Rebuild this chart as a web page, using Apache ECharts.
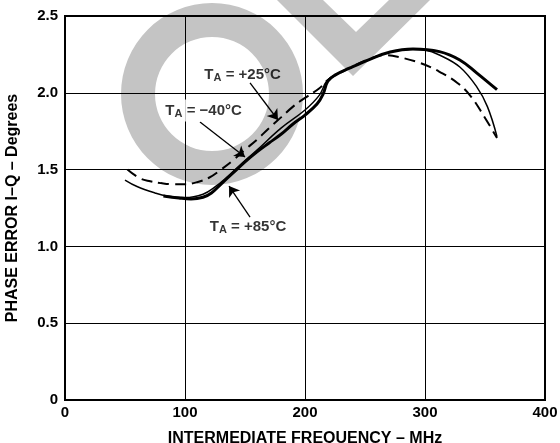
<!DOCTYPE html>
<html><head><meta charset="utf-8">
<script src="https://cdn.jsdelivr.net/npm/echarts@6/dist/echarts.min.js"></script>
<style>html,body{margin:0;padding:0;background:#fff}#c{width:560px;height:443px}</style>
</head><body><div id="c"></div>
<script>
// Data (MHz, degrees)
const xTicks = [0, 100, 200, 300, 400];
const yTicks = [0, 0.5, 1.0, 1.5, 2.0, 2.5];
const t25 = [[52,1.50],[62,1.445],[71,1.424],[80,1.412],[90,1.405],[100,1.405],[110,1.418],[120,1.447],[130,1.50],[140,1.56],[150,1.63],[160,1.695],[170,1.77],[180,1.84],[190,1.91],[200,1.967],[212,2.03],[220,2.09],[237,2.16],[252,2.215],[266,2.245],[278,2.233],[296,2.194],[311,2.142],[327,2.064],[338,1.979],[348,1.862],[360,1.706]];
const tm40 = [[50,1.432],[60,1.39],[75,1.348],[85,1.328],[100,1.318],[115,1.34],[125,1.387],[136,1.458],[146,1.53],[160,1.627],[180,1.77],[200,1.888],[212,1.985],[218,2.075],[225,2.115],[237,2.16],[254,2.218],[271,2.266],[288,2.284],[300,2.278],[312,2.246],[329,2.168],[343,2.04],[352,1.91],[360,1.715]];
const t85 = [[82,1.328],[95,1.315],[105,1.309],[115,1.32],[122,1.348],[130,1.406],[140,1.478],[150,1.55],[160,1.615],[170,1.673],[180,1.73],[190,1.797],[200,1.855],[210,1.927],[215,1.99],[219,2.075],[225,2.115],[237,2.16],[254,2.218],[271,2.266],[290,2.285],[312,2.268],[329,2.214],[343,2.13],[360,2.02]];
const labelTexts = ['T{s|A} = +25°C', 'T{s|A} = \u221240°C', 'T{s|A} = +85°C'];
const labelPos = [[148,2.12],[115.5,1.885],[152.5,1.13]];
const arrows = [[[154.2,2.064],[177.5,1.823]],[[112.5,1.81],[150,1.582]],[[154.2,1.191],[136.7,1.393]]];

const FONT = '"Liberation Sans", Arial, sans-serif';
const chart = echarts.init(document.getElementById('c'), null, {renderer:'canvas'});
const arrowLine = {symbol:['none','arrow'], symbolSize:10, silent:true, label:{show:false},
  lineStyle:{color:'#000', width:1.3, type:'solid'}, itemStyle:{color:'#000'},
  data: arrows.map(a => [{coord:a[0]},{coord:a[1]}])};
chart.setOption({
  animation:false,
  backgroundColor:'#fff',
  graphic:[
    {type:'ring', z:-10, zlevel:0, shape:{cx:212, cy:94, r:91, r0:57}, style:{fill:'#c4c4c4'}},
    {type:'polygon', z:-10, zlevel:0, shape:{points:[[277,0],[323,0],[356,32],[389,0],[430,0],[353,76]]}, style:{fill:'#c4c4c4'}}
  ],
  grid:{left:65, right:15, top:16, bottom:43, show:true, borderColor:'#000', borderWidth:2,
    backgroundColor:'transparent', containLabel:false, outerBoundsMode:'none'},
  xAxis:{type:'value', min:0, max:400, interval:100,
    name:'INTERMEDIATE FREQUENCY \u2013 MHz', nameLocation:'middle', nameGap:31,
    nameTextStyle:{fontFamily:FONT, fontWeight:'bold', fontSize:16, color:'#000'},
    axisLine:{show:true, onZero:false, lineStyle:{color:'#000', width:2}},
    axisTick:{show:false},
    axisLabel:{fontFamily:FONT, fontWeight:'bold', fontSize:15, color:'#000', margin:5,
      formatter:v => xTicks.includes(v) ? String(v) : ''},
    splitLine:{show:true, lineStyle:{color:'#000', width:1}}
  },
  yAxis:{type:'value', min:0, max:2.5, interval:0.5,
    name:'PHASE ERROR I\u2013Q \u2013 Degrees', nameLocation:'middle', nameGap:44,
    nameTextStyle:{fontFamily:FONT, fontWeight:'bold', fontSize:16, color:'#000'},
    axisLine:{show:true, onZero:false, lineStyle:{color:'#000', width:2}},
    axisTick:{show:false},
    axisLabel:{fontFamily:FONT, fontWeight:'bold', fontSize:15, color:'#000', margin:7,
      formatter:v => { const t = yTicks.find(k => Math.abs(k-v)<1e-9); return t===undefined ? '' : (t===0 ? '0' : t.toFixed(1)); }},
    splitLine:{show:true, lineStyle:{color:'#000', width:1}}
  },
  series:[
    {type:'line', name:'+25', data:t25, smooth:0.4, showSymbol:false, z:3,
      lineStyle:{color:'#000', width:2, type:[11,6]}},
    {type:'line', name:'-40', data:tm40, smooth:0.4, showSymbol:false, z:3,
      lineStyle:{color:'#000', width:1.5}},
    {type:'line', name:'+85', data:t85, smooth:0.4, showSymbol:false, z:4,
      lineStyle:{color:'#000', width:3}, markLine:arrowLine},
    {type:'scatter', symbolSize:0, z:5,
      data: labelPos.map((p,i) => ({value:p, label:{
        backgroundColor: i===1 ? '#fff' : 'transparent', padding:[2,2,2,2]}})),
      label:{show:true, position:'inside', color:'#000',
        fontFamily:FONT, fontWeight:'bold', fontSize:15,
        formatter: p => labelTexts[p.dataIndex],
        rich:{s:{fontFamily:FONT, fontWeight:'bold', fontSize:11, color:'#000', verticalAlign:'bottom', padding:[7,0,0,0]}}}
    }
  ]
});
</script></body></html>
